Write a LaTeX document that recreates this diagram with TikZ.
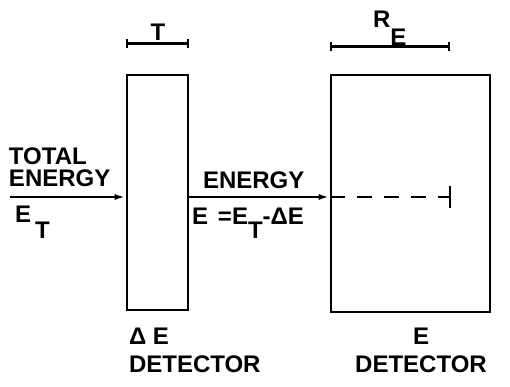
\documentclass[tikz,border=0pt]{standalone}
\usepackage{fontspec}
\setmainfont{Liberation Sans}
\usetikzlibrary{arrows.meta,positioning,calc}
\definecolor{ink}{RGB}{0,0,0}
\tikzset{
  every picture/.style={color=ink, line width=2pt, font=\fontsize{24}{22}\selectfont\bfseries},
  det/.style={draw=ink, line width=2.8pt, inner sep=0pt},
  flow/.style={-{Latex[length=11pt,width=6pt]}, line width=2.2pt},
  span/.style={{Bar[width=9pt]}-{Bar[width=9pt]}, line width=2.2pt},
  beam/.style={dash pattern=on 15pt off 12pt, line width=2.2pt},
  lbl/.style={inner sep=0pt, align=left},
  detname/.style={lbl, font=\fontsize{24}{28}\selectfont\bfseries},
}

\begin{document}
\begin{tikzpicture}[x=1pt,y=-1pt]
  \useasboundingbox (0,0) rectangle (510,387);
  % detectors
  \node[det, minimum width=61pt, minimum height=235pt] (dE) at (157.5,192.5) {};
  \node[det, minimum width=159pt, minimum height=237pt] (E) at (410.5,193.5) {};
  \coordinate (src) at (10,197);
  \coordinate (stop) at (450,197);
  % sizes
  \draw[span] ([yshift=30pt]dE.north west) -- ([yshift=30pt]dE.north east);
  \node[lbl, anchor=base] (T) at (158,41) {T};
  \draw[span] ([yshift=27pt]E.north west) -- ([yshift=27pt]E.north west -| stop);
  \node[lbl, anchor=base west] (RE) at (372,28) {R\raisebox{-18pt}{E}};
  % particle
  \draw[flow] (src) -- (src -| dE.west);
  \draw[flow] (dE.east |- src) -- (E.west |- src);
  \draw[beam] (E.west |- src) -- (stop);
  \draw ([yshift=11pt]stop) -- ([yshift=-11pt]stop);
  % texts
  \node[lbl, anchor=south west] (tot) at (8,188) {TOTAL\\ENERGY};
  \node[lbl, anchor=base west] (ET) at (14,222) {E\,\raisebox{-16pt}{T}};
  \node[lbl, anchor=base west] (en) at (202,188) {ENERGY};
  \node[lbl, anchor=base west] (eq) at (191,224) {E\hspace{10pt}=E\raisebox{-14pt}{T}-ΔE};
  \node[detname, anchor=base west] (dEl) at (128,372) {Δ E\\DETECTOR};
  \node[detname, anchor=base, align=center] (El) at (421,372) {E\\DETECTOR};
\end{tikzpicture}
\end{document}
